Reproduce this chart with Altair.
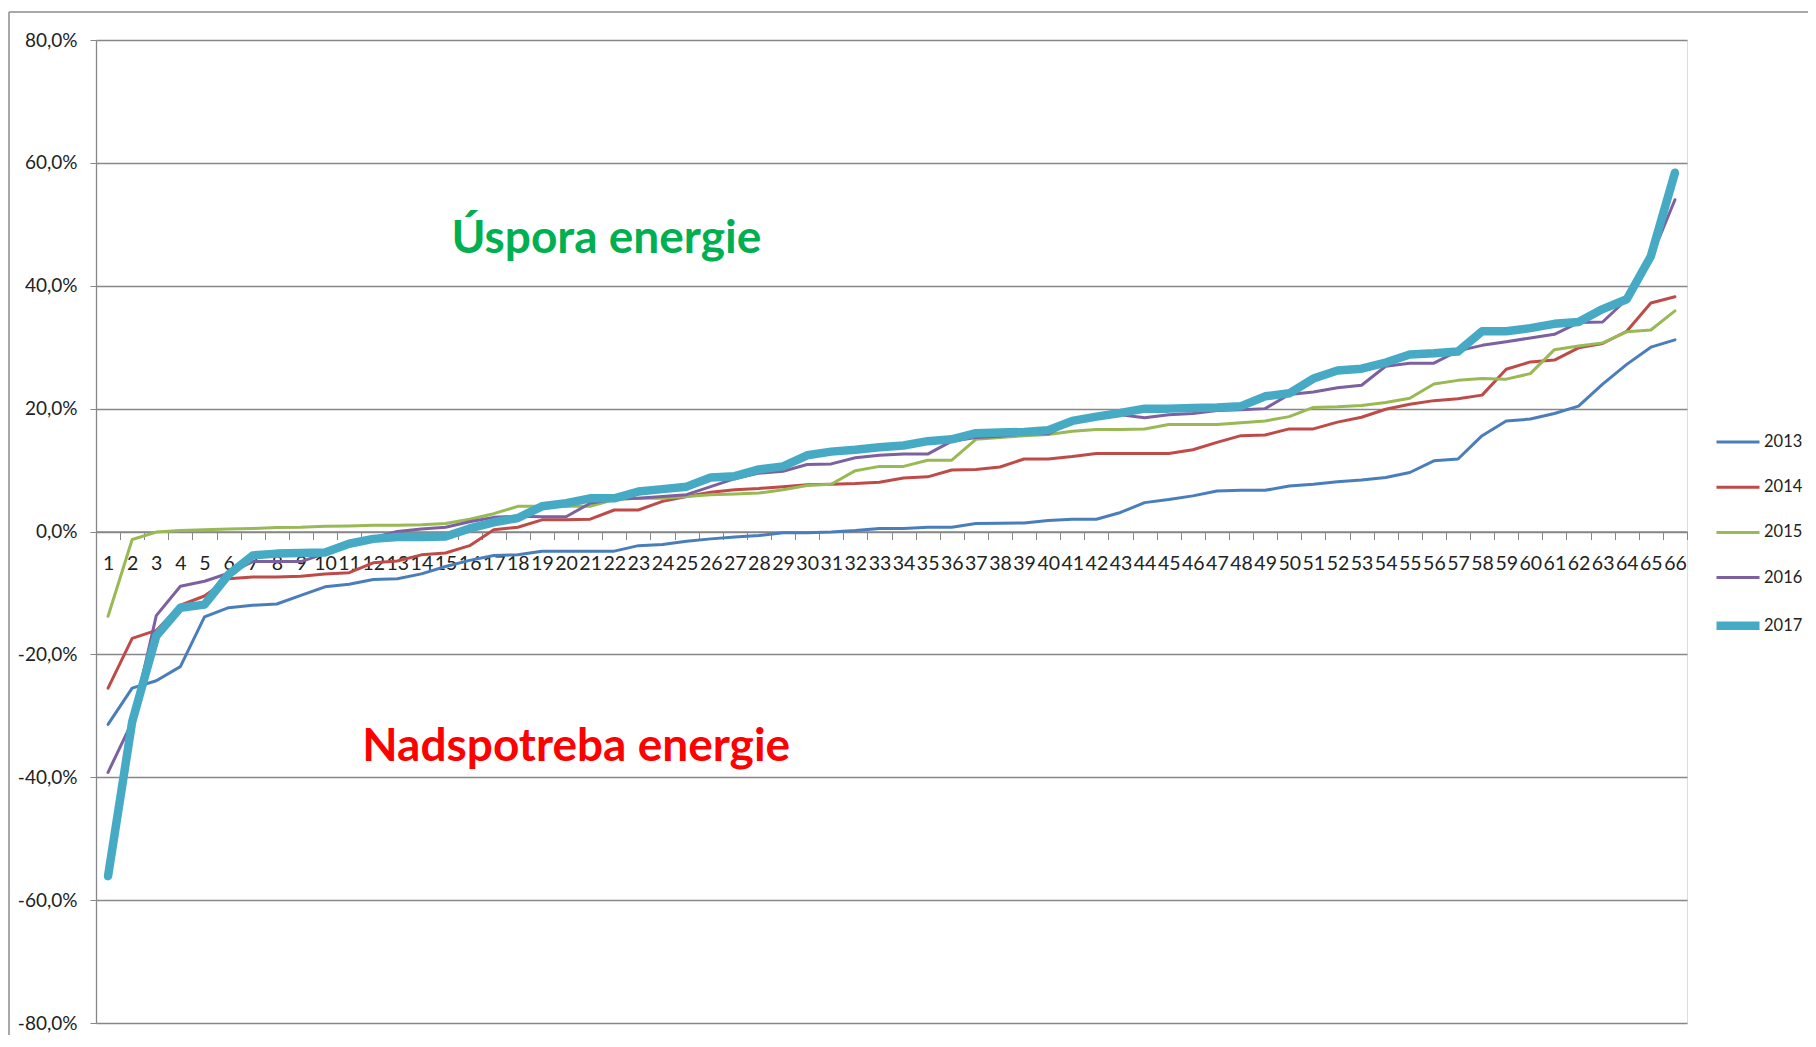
import altair as alt
import pandas as pd

# ---- data (values in %) ----
categories = list(range(1, 67))
years = ["2013", "2014", "2015", "2016", "2017"]

y2013 = [-31.4, -25.5, -24.3, -22.0, -13.9, -12.4, -12.0, -11.8, -10.4, -9.0,
         -8.6, -7.8, -7.7, -6.9, -5.7, -4.7, -3.9, -3.8, -3.2, -3.2,
         -3.2, -3.2, -2.3, -2.1, -1.6, -1.2, -0.9, -0.65, -0.2, -0.2,
         -0.1, 0.15, 0.5, 0.5, 0.7, 0.7, 1.3, 1.35, 1.4, 1.8,
         2.0, 2.0, 3.1, 4.7, 5.2, 5.8, 6.6, 6.7, 6.7, 7.4,
         7.7, 8.1, 8.4, 8.8, 9.6, 11.5, 11.8, 15.6, 18.0, 18.3,
         19.2, 20.4, 24.0, 27.2, 30.0, 31.2]
y2014 = [-25.5, -17.4, -16.1, -12.0, -10.5, -7.7, -7.4, -7.4, -7.3, -6.9,
         -6.7, -5.1, -4.8, -3.8, -3.5, -2.3, 0.3, 0.7, 1.9, 1.9,
         2.0, 3.5, 3.5, 4.9, 5.7, 6.4, 6.8, 7.0, 7.3, 7.6,
         7.7, 7.8, 8.0, 8.7, 8.9, 10.0, 10.1, 10.5, 11.8, 11.8,
         12.2, 12.7, 12.7, 12.7, 12.7, 13.3, 14.5, 15.6, 15.7, 16.7,
         16.7, 17.8, 18.6, 19.9, 20.7, 21.3, 21.6, 22.2, 26.4, 27.6,
         27.9, 29.9, 30.6, 32.6, 37.2, 38.2]
y2015 = [-13.8, -1.3, -0.1, 0.15, 0.3, 0.4, 0.5, 0.65, 0.7, 0.85,
         0.9, 1.0, 1.0, 1.1, 1.3, 2.0, 2.9, 4.1, 4.1, 4.1,
         4.1, 5.2, 5.4, 5.4, 5.7, 6.0, 6.1, 6.25, 6.8, 7.5,
         7.7, 9.9, 10.6, 10.6, 11.6, 11.6, 15.0, 15.3, 15.6, 15.8,
         16.3, 16.6, 16.6, 16.7, 17.4, 17.4, 17.4, 17.7, 18.0, 18.7,
         20.2, 20.3, 20.5, 21.0, 21.7, 24.0, 24.6, 24.9, 24.8, 25.7,
         29.6, 30.2, 30.7, 32.5, 32.8, 35.9]
y2016 = [-39.2, -31.0, -13.7, -8.9, -8.1, -6.8, -4.9, -4.9, -4.9, -3.6,
         -2.0, -1.0, 0.0, 0.4, 0.7, 1.6, 2.3, 2.5, 2.4, 2.4,
         4.6, 5.3, 5.4, 5.7, 6.0, 7.3, 8.6, 9.5, 9.8, 10.9,
         11.0, 12.0, 12.4, 12.6, 12.6, 14.7, 15.3, 15.5, 15.9, 15.9,
         17.8, 18.5, 19.0, 18.5, 19.0, 19.2, 19.7, 19.8, 20.0, 22.3,
         22.7, 23.4, 23.8, 26.9, 27.4, 27.4, 29.4, 30.3, 30.9, 31.5,
         32.1, 34.0, 34.1, 37.8, 44.5, 54.0]
y2017 = [-56.1, -31.0, -17.0, -12.4, -11.9, -7.0, -3.9, -3.6, -3.5, -3.4,
         -2.0, -1.2, -0.9, -0.9, -0.8, 0.5, 1.5, 2.2, 4.1, 4.6,
         5.4, 5.4, 6.5, 6.9, 7.3, 8.8, 9.0, 10.1, 10.6, 12.4,
         13.0, 13.3, 13.7, 14.0, 14.7, 15.0, 16.0, 16.1, 16.2, 16.5,
         18.0, 18.7, 19.3, 20.0, 20.0, 20.1, 20.2, 20.4, 22.0, 22.5,
         24.9, 26.2, 26.5, 27.5, 28.8, 29.0, 29.3, 32.6, 32.6, 33.1,
         33.8, 34.1, 36.2, 37.8, 44.8, 58.4]

series = [y2013, y2014, y2015, y2016, y2017]
colors = ["#4A7EBB", "#BE4B48", "#98B954", "#7D60A0", "#46AAC5"]
widths = [3, 3, 3, 3, 8.5]

y_ticks = [-80, -60, -40, -20, 0, 20, 40, 60, 80]

# annotation texts and their (category, value) anchors
note_save = "Úspora energie"
note_save_pos = (21.67, 45.3)
note_over = "Nadspotreba energie"
note_over_pos = (20.42, -37.4)

rows = []
for yr, vals in zip(years, series):
    for c, v in zip(categories, vals):
        rows.append({"cat": c, "value": v, "year": yr})
df = pd.DataFrame(rows)

W, H = 1591, 983
band = W / 66
GRID = "#878787"
FONT = "Lato"

xscale = alt.Scale(domain=[0.5, 66.5], nice=False, zero=False)
yscale = alt.Scale(domain=[-80, 80], nice=False, zero=False)

x_axis = alt.Axis(
    values=[k + 0.5 for k in range(67)],
    labelExpr="datum.value < 66 ? format(datum.value + 0.5, 'd') : ''",
    labelOffset=band / 2,
    offset=-H / 2,
    grid=False, domain=True, ticks=True, tickSize=8,
    domainColor=GRID, tickColor=GRID, domainWidth=1.5,
    labelFont=FONT, labelFontSize=19.5, labelColor="#222222",
    labelBaseline="middle", labelPadding=24,
    labelOverlap=False, labelFlush=False, labelBound=False,
    title=None,
)
y_axis = alt.Axis(
    values=y_ticks,
    labelExpr="(datum.value < 0 ? '-' : '') + replace(format(abs(datum.value), '.1f'), '.', ',') + '%'",
    grid=True, gridColor=GRID, gridWidth=1.3,
    domain=True, domainColor=GRID, domainWidth=1.3,
    ticks=True, tickSize=6, tickColor=GRID,
    labelFont=FONT, labelFontSize=19, labelColor="#222222",
    labelPadding=13, labelBaseline="middle",
    labelOverlap=False,
    title=None,
)

legend_cfg = dict(
    title=None, orient="none", legendX=1616, legendY=379,
    symbolType="stroke", symbolSize=1849, labelOffset=0,
    labelFont=FONT, labelFontSize=16.5, labelColor="#222222",
    rowPadding=13.2, padding=0,
)

lines = alt.Chart(df).mark_line(strokeCap="round", strokeJoin="round").encode(
    x=alt.X("cat:Q", scale=xscale, axis=x_axis),
    y=alt.Y("value:Q", scale=yscale, axis=y_axis),
    color=alt.Color(
        "year:O",
        scale=alt.Scale(type="ordinal", domain=years, range=colors),
        legend=alt.Legend(**legend_cfg),
    ),
    strokeWidth=alt.StrokeWidth(
        "year:O",
        scale=alt.Scale(type="ordinal", domain=years, range=widths),
        legend=alt.Legend(**legend_cfg),
    ),
    order=alt.Order("cat:Q"),
)

txt_save = alt.Chart(pd.DataFrame({"t": [note_save]})).mark_text(
    font=FONT, fontWeight="bold", fontSize=46, color="#00B050",
    align="center", baseline="alphabetic",
).encode(
    x=alt.X(datum=note_save_pos[0], scale=xscale, axis=x_axis),
    y=alt.Y(datum=note_save_pos[1], scale=yscale, axis=y_axis),
    text="t:N",
)
txt_over = alt.Chart(pd.DataFrame({"t": [note_over]})).mark_text(
    font=FONT, fontWeight="bold", fontSize=46, color="#FF0000",
    align="center", baseline="alphabetic",
).encode(
    x=alt.X(datum=note_over_pos[0], scale=xscale, axis=x_axis),
    y=alt.Y(datum=note_over_pos[1], scale=yscale, axis=y_axis),
    text="t:N",
)

# outer chart frame (left and top edges visible in the reference)
frame_left = alt.Chart(pd.DataFrame({"a": [0]})).mark_rule(color="#8c8c8c", strokeWidth=1.5).encode(
    x=alt.value(-87), y=alt.value(-28), y2=alt.value(H + 80)
)
frame_top = alt.Chart(pd.DataFrame({"a": [0]})).mark_rule(color="#8c8c8c", strokeWidth=1.5).encode(
    x=alt.value(-87), x2=alt.value(W + 200), y=alt.value(-28)
)

chart = alt.layer(lines, txt_save, txt_over, frame_left, frame_top).properties(
    width=W, height=H,
    autosize=alt.AutoSizeParams(type="none"),
    padding={"left": 88, "top": 32, "right": 121, "bottom": 12},
).configure_view(strokeOpacity=0).configure_axis(labelOverlap=False).configure(background="white")

chart.save("out.html", embed_options={"renderer": "svg", "actions": False})
